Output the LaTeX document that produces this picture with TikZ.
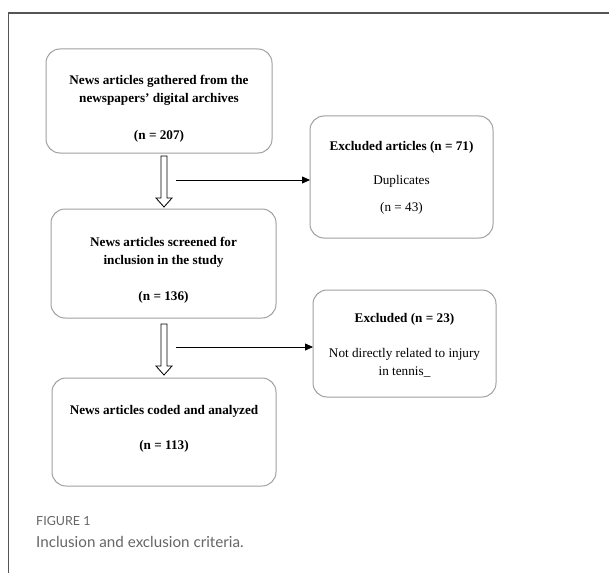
\documentclass[tikz,border=0pt]{standalone}
\usepackage{fontspec}
\setmainfont{Liberation Serif}
\newfontfamily\capfont{Lato}
\usetikzlibrary{arrows.meta,calc}
\definecolor{boxgray}{HTML}{A0A0A0}
\definecolor{capgray}{HTML}{666666}
\definecolor{framegray}{HTML}{555555}
\begin{document}
\begin{tikzpicture}[x=1pt,y=-1pt,
  flowbox/.style={draw=boxgray,line width=1pt,rounded corners=14pt},
  bt/.style={font=\fontsize{13.2}{18}\selectfont\bfseries,align=center,inner sep=0pt},
  rt/.style={font=\fontsize{13.2}{18}\selectfont,align=center,inner sep=0pt},
  hollow/.style={draw=black,line width=0.8pt,fill=white},
  thinarrow/.style={draw=black,line width=0.8pt,-{Triangle[length=8pt,width=7pt]}}]
\useasboundingbox (0,0) rectangle (609,572);
\fill[white] (0,0) rectangle (609,572);
% outer frame (left and top edges)
\draw[framegray,line width=1.2pt] (8.5,580) -- (8.5,13) -- (620,13);
% boxes
\draw[flowbox] (46,49) rectangle (272,153);
\node[bt] (t1) at (159,90) {News articles gathered from the\\newspapers’ digital archives};
\node[bt] (n1) at (159,136) {(n = 207)};

\draw[flowbox] (310,116) rectangle (493,238);
\node[bt] (t2) at (401.5,147) {Excluded articles (n = 71)};
\node[rt] (d2) at (401.5,181) {Duplicates};
\node[rt] (n2) at (401.5,208) {(n = 43)};
\coordinate (b2w) at (310,180);

\draw[flowbox] (51,209) rectangle (276,318);
\node[bt] (t3) at (163.5,252) {News articles screened for\\inclusion in the study};
\node[bt] (n3) at (163.5,297) {(n = 136)};

\draw[flowbox] (313,290) rectangle (496,397);
\node[bt] (t4) at (404.5,319) {Excluded (n = 23)};
\node[rt] (d4) at (404.5,363) {Not directly related to injury\\in tennis\_};
\coordinate (b4w) at (313,347);

\draw[flowbox] (52,378) rectangle (276,486);
\node[bt] (t5) at (164,411) {News articles coded and analyzed};
\node[bt] (n5) at (164,446) {(n = 113)};

% hollow arrows
\draw[hollow] (161,156) -- (167,156) -- (167,198) -- (172,198) -- (164,207) -- (156,198) -- (161,198) -- cycle;
\draw[hollow] (161,324) -- (167,324) -- (167,366) -- (172,366) -- (164,375) -- (156,366) -- (161,366) -- cycle;
% thin arrows
\coordinate (a1) at (176,180);
\coordinate (a2) at (176,347);
\draw[thinarrow] (a1) -- (b2w);
\draw[thinarrow] (a2) -- (b4w);

% caption
\node[anchor=west,inner sep=0pt,text=capgray,font=\capfont\fontsize{12.5}{14}\selectfont] (fig) at (36,521) {FIGURE 1};
\node[anchor=west,inner sep=0pt,text=capgray,font=\capfont\fontsize{15.2}{20}\selectfont] (cap) at (36,542) {Inclusion and exclusion criteria.};
\end{tikzpicture}
\end{document}
